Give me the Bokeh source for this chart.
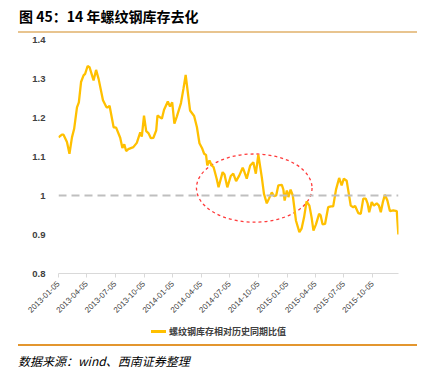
import math
import datetime as dt
from bokeh.plotting import figure
from bokeh.layouts import column
from bokeh.models import (Range1d, FixedTicker, DatetimeTickFormatter, Span,
                          ColumnDataSource, Div)
from bokeh.embed import file_html
from bokeh.resources import INLINE

# ---------------- data ----------------
DATES = [
    "2013-01-05", "2013-01-16", "2013-01-21", "2013-02-01", "2013-02-09", "2013-02-17",
    "2013-02-24", "2013-03-05", "2013-03-11", "2013-03-18", "2013-03-26", "2013-03-31",
    "2013-04-08", "2013-04-14", "2013-04-27", "2013-05-05", "2013-05-13", "2013-05-27",
    "2013-06-06", "2013-06-10", "2013-06-17", "2013-06-30", "2013-07-08", "2013-07-21",
    "2013-07-28", "2013-08-03", "2013-08-09", "2013-08-16", "2013-09-01", "2013-09-12",
    "2013-09-23", "2013-09-28", "2013-10-05", "2013-10-12", "2013-10-19", "2013-10-27",
    "2013-11-04", "2013-11-13", "2013-11-17", "2013-12-01", "2013-12-08", "2013-12-20",
    "2013-12-27", "2014-01-03", "2014-01-10", "2014-01-18", "2014-01-31", "2014-02-08",
    "2014-02-15", "2014-03-01", "2014-03-14", "2014-03-23", "2014-03-31", "2014-04-08",
    "2014-04-15", "2014-04-21", "2014-04-25", "2014-05-02", "2014-05-09", "2014-05-15",
    "2014-05-25", "2014-05-31", "2014-06-13", "2014-06-19", "2014-06-28", "2014-07-09",
    "2014-07-17", "2014-07-26", "2014-08-05", "2014-08-16", "2014-08-20", "2014-08-29",
    "2014-09-09", "2014-09-19", "2014-09-27", "2014-10-05", "2014-10-16", "2014-10-23",
    "2014-11-01", "2014-11-08", "2014-11-17", "2014-11-24", "2014-12-01", "2014-12-08",
    "2014-12-19", "2014-12-24", "2014-12-28", "2015-01-04", "2015-01-09", "2015-01-16",
    "2015-01-23", "2015-02-02", "2015-02-13", "2015-02-20", "2015-02-28", "2015-03-08",
    "2015-03-17", "2015-03-24", "2015-03-30", "2015-04-07", "2015-04-17", "2015-04-22",
    "2015-04-28", "2015-05-06", "2015-05-16", "2015-05-25", "2015-06-01", "2015-06-10",
    "2015-06-20", "2015-06-28", "2015-07-05", "2015-07-14", "2015-07-27", "2015-08-04",
    "2015-08-10", "2015-08-20", "2015-08-28", "2015-09-05", "2015-09-13", "2015-09-19",
    "2015-09-24", "2015-10-02", "2015-10-09", "2015-10-18", "2015-10-25", "2015-10-31",
    "2015-11-06", "2015-11-13", "2015-11-21", "2015-11-29", "2015-12-10", "2015-12-21",
    "2015-12-26",
]
RATIO = [
    1.149, 1.156, 1.156, 1.137, 1.107, 1.149,
    1.171, 1.226, 1.239, 1.291, 1.308, 1.312,
    1.332, 1.329, 1.295, 1.322, 1.299, 1.244,
    1.228, 1.225, 1.230, 1.175, 1.174, 1.148,
    1.122, 1.131, 1.114, 1.119, 1.124, 1.135,
    1.162, 1.151, 1.205, 1.165, 1.160, 1.147,
    1.148, 1.167, 1.205, 1.197, 1.220, 1.241,
    1.228, 1.239, 1.184, 1.203, 1.237, 1.274,
    1.309, 1.218, 1.204, 1.175, 1.134, 1.122,
    1.107, 1.104, 1.077, 1.090, 1.077, 1.073,
    1.043, 1.021, 1.060, 1.054, 1.021, 1.050,
    1.056, 1.037, 1.051, 1.071, 1.064, 1.043,
    1.077, 1.085, 1.056, 1.105, 1.047, 1.004,
    0.980, 0.992, 1.008, 0.998, 1.000, 1.026,
    1.027, 1.015, 0.987, 1.013, 0.996, 1.015,
    1.000, 0.936, 0.906, 0.915, 0.944, 0.985,
    0.974, 0.944, 0.910, 0.926, 0.953, 0.949,
    0.926, 0.927, 0.970, 0.972, 0.972, 1.015,
    1.045, 1.026, 1.043, 1.038, 0.974, 0.970,
    0.973, 0.955, 0.953, 0.992, 0.992, 0.979,
    0.957, 0.983, 0.974, 0.980, 0.974, 0.957,
    0.981, 1.002, 0.987, 0.960, 0.962, 0.960,
    0.900,
]
SERIES_NAME = "螺纹钢库存相对历史同期比值"
X_TICK_LABELS = ["2013-01-05", "2013-04-05", "2013-07-05", "2013-10-05",
                 "2014-01-05", "2014-04-05", "2014-07-05", "2014-10-05",
                 "2015-01-05", "2015-04-05", "2015-07-05", "2015-10-05"]
Y_TICKS = [0.8, 0.9, 1.0, 1.1, 1.2, 1.3, 1.4]
Y_TICK_LABELS = ["0.8", "0.9", "1", "1.1", "1.2", "1.3", "1.4"]
REFERENCE_LEVEL = 1.0
# highlighted region (dashed red ellipse)
HL_CENTER_DATE = "2014-09-22"
HL_CENTER_VALUE = 1.019
HL_WIDTH_DAYS = 369
HL_HEIGHT = 0.175

TITLE = "图 45：14 年螺纹钢库存去化"
SOURCE = "数据来源：wind、西南证券整理"

# ---------------- helpers ----------------
def to_dt(s):
    return dt.datetime.strptime(s, "%Y-%m-%d")

def to_ms(s):
    return (to_dt(s) - dt.datetime(1970, 1, 1)).total_seconds() * 1000.0

CJK = "Noto Sans CJK SC"
LAT = "Liberation Sans"
LINE_COLOR = "#FFC000"

src = ColumnDataSource(data=dict(date=[to_dt(d) for d in DATES], val=RATIO))

p = figure(x_axis_type="datetime", output_backend="svg", toolbar_location=None,
           frame_width=340, frame_height=234,
           min_border_left=58, min_border_right=20, min_border_top=6, min_border_bottom=40,
           x_range=Range1d(to_ms(DATES[0]), to_ms(DATES[-1]) + 0.5 * 86400000),
           y_range=Range1d(0.8, 1.4))
p.outline_line_color = None
p.background_fill_color = "white"
p.border_fill_color = "white"
p.grid.visible = False

# axes
p.yaxis.ticker = FixedTicker(ticks=Y_TICKS)
p.yaxis.major_label_overrides = {t: l for t, l in zip(Y_TICKS, Y_TICK_LABELS)}
p.yaxis.axis_line_color = None
p.yaxis.major_tick_line_color = None
p.yaxis.minor_tick_line_color = None
p.yaxis.major_label_standoff = 7
p.yaxis.major_label_text_font = LAT
p.yaxis.major_label_text_font_size = "9.5px"
p.yaxis.major_label_text_font_style = "bold"
p.yaxis.major_label_text_color = "#404040"

p.xaxis.ticker = FixedTicker(ticks=[to_ms(d) for d in X_TICK_LABELS])
fmt = "%Y-%m-%d"
p.xaxis.formatter = DatetimeTickFormatter(years=fmt, months=fmt, days=fmt, hours=fmt,
                                          minutes=fmt, seconds=fmt, milliseconds=fmt,
                                          microseconds=fmt, hourmin=fmt, minsec=fmt)
p.xaxis.major_label_orientation = math.pi / 4
p.xaxis.axis_line_color = "#D9D9D9"
p.xaxis.major_tick_line_color = "#D9D9D9"
p.xaxis.major_tick_in = 0
p.xaxis.major_tick_out = 4
p.xaxis.minor_tick_line_color = None
p.xaxis.major_label_standoff = 5
p.xaxis.major_label_text_font = LAT
p.xaxis.major_label_text_font_size = "8px"
p.xaxis.major_label_text_color = "#404040"

# reference line at 1
p.add_layout(Span(location=REFERENCE_LEVEL, dimension="width", line_color="#BFBFBF",
                  line_width=2, line_dash="8 5"))

# highlight ellipse
p.ellipse(x=[to_dt(HL_CENTER_DATE)], y=[HL_CENTER_VALUE], width=[HL_WIDTH_DAYS * 86400000.0],
          height=[HL_HEIGHT], fill_color=None, line_color="#FF3B3B", line_width=1.3,
          line_dash="3 3")

p.line(x="date", y="val", source=src, line_color=LINE_COLOR, line_width=2.3,
       legend_label=SERIES_NAME)
p.legend.visible = False  # legend drawn below the figure (outside the frame)

title_div = Div(text=TITLE, width=420, height=14, margin=(9, 0, 8, 19),
                styles={"font-family": CJK, "font-size": "14px", "font-weight": "bold",
                        "line-height": "14px", "color": "#000000", "white-space": "nowrap"})
line_top = Div(text="", width=399, height=2, margin=(0, 0, 0, 18),
               styles={"background-color": "#E8C48F"})
legend_div = Div(
    text=('<span style="display:inline-block;width:15px;height:2.5px;background:%s;'
          'vertical-align:middle;margin-right:3px"></span>'
          '<span style="vertical-align:middle">%s</span>') % (LINE_COLOR, SERIES_NAME),
    width=260, height=10, margin=(9, 0, 8, 151),
    styles={"font-family": CJK, "font-size": "9px", "font-weight": "bold",
            "line-height": "10px", "color": "#404040", "white-space": "nowrap"})
source_div = Div(
    text=('<div style="width:399px;height:2px;background:#E3962F;margin:0 0 8px 0;'
          'font-size:0;line-height:0">&nbsp;</div>'
          '<div style="white-space:nowrap">%s</div>') % SOURCE,
    width=410, height=24, margin=(0, 0, 0, 18),
    styles={"font-family": CJK, "font-size": "12px", "font-style": "italic",
            "line-height": "13px", "color": "#000000"})

page = column(title_div, line_top, p, legend_div, source_div, spacing=0)

open("out.html", "w").write(file_html(page, INLINE))
